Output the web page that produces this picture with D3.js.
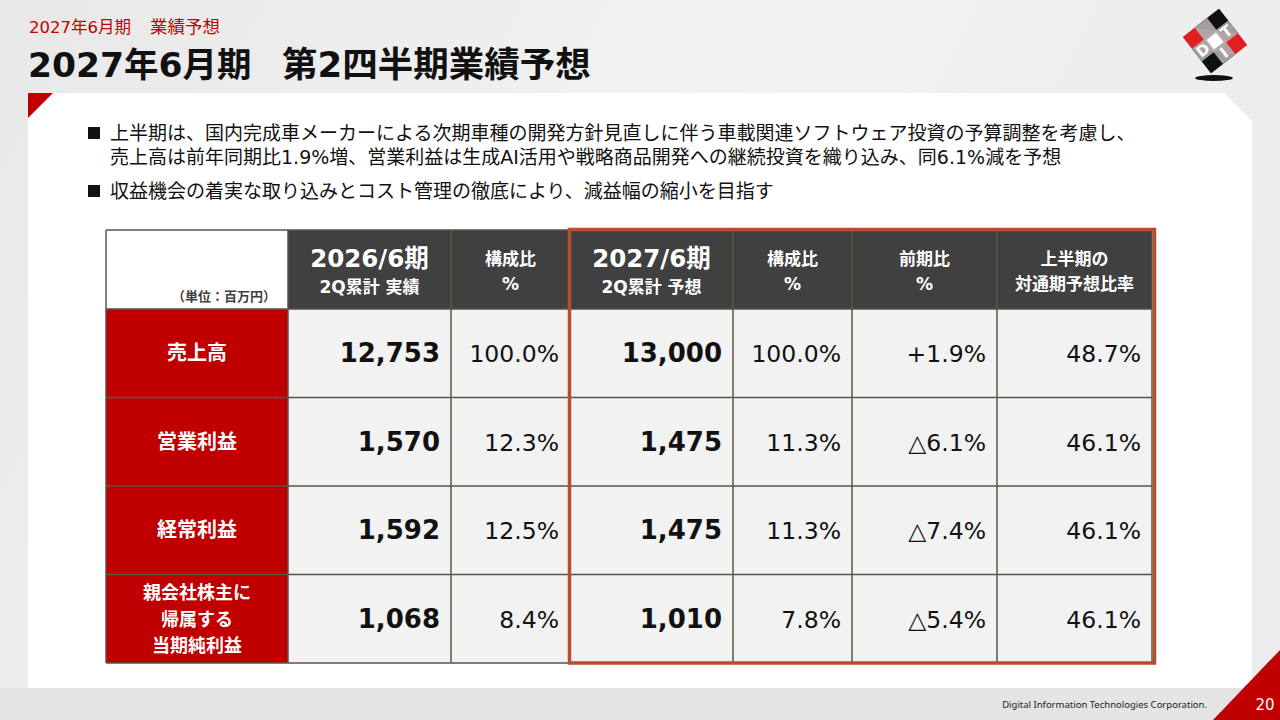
<!DOCTYPE html>
<html>
<head>
<meta charset="utf-8">
<script src="https://cdn.jsdelivr.net/npm/d3@7"></script>
<style>
  html, body { margin: 0; padding: 0; background: #ececec; }
  svg { display: block; }
</style>
</head>
<body>
<svg id="slide" width="1280" height="720"></svg>
<script>
// data
var categories = ["売上高", "営業利益", "経常利益", "親会社株主に\n帰属する\n当期純利益"];
var actual2026 = [12753, 1570, 1592, 1068];
var ratio2026  = [100.0, 12.3, 12.5, 8.4];
var plan2027   = [13000, 1475, 1475, 1010];
var ratio2027  = [100.0, 11.3, 11.3, 7.8];
var yoyChange  = [1.9, -6.1, -7.4, -5.4];
var halfRatio  = [48.7, 46.1, 46.1, 46.1];

var headerLabels = [
  ["2026/6期", "2Q累計 実績"],
  ["構成比", "%"],
  ["2027/6期", "2Q累計 予想"],
  ["構成比", "%"],
  ["前期比", "%"],
  ["上半期の", "対通期予想比率"]
];
var unitLabel = "（単位：百万円）";

var bullets = [
  ["上半期は、国内完成車メーカーによる次期車種の開発方針見直しに伴う車載関連ソフトウェア投資の予算調整を考慮し、",
   "売上高は前年同期比1.9%増、営業利益は生成AI活用や戦略商品開発への継続投資を織り込み、同6.1%減を予想"],
  ["収益機会の着実な取り込みとコスト管理の徹底により、減益幅の縮小を目指す"]
];

var FONT = "'DejaVu Sans', 'Noto Sans CJK JP', sans-serif";
var JP = "'Noto Sans CJK JP', sans-serif";
var RED = "#c00000", DARK = "#404040", CELL = "#f2f2f2", GRID = "#5a5546", ORANGE = "#b84c2c";

var svg = d3.select("#slide");

// ---- background ----
var defs = svg.append("defs");
var bg = defs.append("linearGradient").attr("id", "bgGrad")
  .attr("x1", "0%").attr("y1", "0%").attr("x2", "100%").attr("y2", "30%");
bg.append("stop").attr("offset", "0%").attr("stop-color", "#e8e8e8");
bg.append("stop").attr("offset", "55%").attr("stop-color", "#f2f2f2");
bg.append("stop").attr("offset", "100%").attr("stop-color", "#ececec");

svg.append("rect").attr("width", 1280).attr("height", 720).attr("fill", "url(#bgGrad)");
svg.append("rect").attr("x", 0).attr("y", 688).attr("width", 1280).attr("height", 32).attr("fill", "#e4e4e4");

// white panel with clipped top-right corner
svg.append("path")
  .attr("d", d3.line()([[28, 93], [1224, 93], [1252, 121], [1252, 688], [28, 688]]) + "Z")
  .attr("fill", "#ffffff");

svg.append("path").attr("d", "M28,93L53,93L28,118Z").attr("fill", RED);
svg.append("path").attr("d", "M1213,720L1280,650L1280,720Z").attr("fill", RED);

// ---- titles ----
var head = svg.append("g").attr("font-family", FONT);
head.append("text").attr("x", 29).attr("y", 33).attr("font-size", 16.5).attr("fill", RED)
  .text("2027年6月期");
head.append("text").attr("x", 150).attr("y", 33).attr("font-size", 17.5).attr("fill", RED)
  .text("業績予想");
head.append("text").attr("x", 28).attr("y", 77).attr("font-size", 34.5).attr("font-weight", "bold")
  .attr("fill", "#111").text("2027年6月期");
head.append("text").attr("x", 282).attr("y", 77).attr("font-size", 35.5).attr("font-weight", "bold")
  .attr("fill", "#111").text("第2四半期業績予想");

// ---- logo ----
svg.append("ellipse").attr("cx", 1214).attr("cy", 78).attr("rx", 19).attr("ry", 3).attr("fill", "#111");
var logo = svg.append("g").attr("transform", "translate(1215,41) rotate(-38)");
var s = 23;
logo.append("rect").attr("x", -s).attr("y", -s).attr("width", 2 * s).attr("height", 2 * s).attr("fill", "#e02020");
logo.append("path").attr("d", "M-8," + (-s) + "L" + s + "," + (-s) + "L" + s + ",8Z").attr("fill", "#111");
logo.append("path").attr("d", "M" + (-s) + ",-8L" + (-s) + "," + s + "L8," + s + "Z").attr("fill", "#111");
logo.append("rect").attr("x", -8).attr("y", -s).attr("width", 16).attr("height", 2 * s).attr("fill", "#b0b0b0").attr("opacity", 0.9);
logo.append("rect").attr("x", -s).attr("y", -8).attr("width", 2 * s).attr("height", 16).attr("fill", "#b0b0b0").attr("opacity", 0.9);
logo.append("rect").attr("x", -6).attr("y", -6).attr("width", 12).attr("height", 12).attr("fill", "#fff");
var logoText = [["D", -15, 0], ["I", 0, 15], ["T", 15, 0]];
logo.selectAll("text.l").data(logoText).join("text")
  .attr("x", function(d) { return d[1]; }).attr("y", function(d) { return d[2] + 5; })
  .attr("text-anchor", "middle").attr("font-family", FONT).attr("font-weight", "bold")
  .attr("font-size", 15).attr("fill", "#fff").text(function(d) { return d[0]; });

// ---- bullets ----
var bl = svg.append("g").attr("font-family", FONT).attr("font-size", 19).attr("fill", "#111");
var lineY = [[140, 164], [198]];
bullets.forEach(function(lines, i) {
  bl.append("rect").attr("x", 88).attr("y", lineY[i][0] - 13).attr("width", 12).attr("height", 12).attr("fill", "#111");
  lines.forEach(function(t, j) {
    bl.append("text").attr("x", 110).attr("y", lineY[i][j]).text(t);
  });
});

// ---- table ----
var colEdges = [106, 288, 451, 570, 733, 852, 997, 1152];
var headerTop = 230, headerBottom = 309, tableBottom = 663;
var y = d3.scaleBand().domain(d3.range(categories.length)).range([headerBottom, tableBottom]);

var fmtNum = d3.format(",");
var fmtPct = function(v) { return v.toFixed(1) + "%"; };
var fmtYoy = function(v) { return (v >= 0 ? "+" : "△") + Math.abs(v).toFixed(1) + "%"; };

var columns = [
  { values: actual2026, fmt: fmtNum, bold: true },
  { values: ratio2026, fmt: fmtPct, bold: false },
  { values: plan2027, fmt: fmtNum, bold: true },
  { values: ratio2027, fmt: fmtPct, bold: false },
  { values: yoyChange, fmt: fmtYoy, bold: false },
  { values: halfRatio, fmt: fmtPct, bold: false }
];

var table = svg.append("g");

// header
table.append("rect").attr("x", colEdges[0]).attr("y", headerTop)
  .attr("width", colEdges[1] - colEdges[0]).attr("height", headerBottom - headerTop).attr("fill", "#fff");
table.append("text").attr("x", colEdges[1] - 12).attr("y", headerBottom - 8)
  .attr("text-anchor", "end").attr("font-family", JP).attr("font-weight", "bold")
  .attr("font-size", 13).attr("fill", "#404040").text(unitLabel);

headerLabels.forEach(function(lbl, c) {
  var x0 = colEdges[c + 1], x1 = colEdges[c + 2], cx = (x0 + x1) / 2;
  table.append("rect").attr("x", x0).attr("y", headerTop).attr("width", x1 - x0)
    .attr("height", headerBottom - headerTop).attr("fill", DARK);
  var big = lbl[0].indexOf("/") > 0;
  table.append("text").attr("x", cx).attr("y", big ? 267 : 265)
    .attr("text-anchor", "middle").attr("font-family", FONT).attr("font-weight", "bold")
    .attr("font-size", big ? 24.5 : 17).attr("fill", "#fff").text(lbl[0]);
  table.append("text").attr("x", cx).attr("y", big ? 293 : 290)
    .attr("text-anchor", "middle").attr("font-family", FONT).attr("font-weight", "bold")
    .attr("font-size", 17).attr("fill", "#fff").text(lbl[1]);
});

// body rows
categories.forEach(function(cat, r) {
  var ry = y(r), rh = y.bandwidth();
  table.append("rect").attr("x", colEdges[0]).attr("y", ry)
    .attr("width", colEdges[1] - colEdges[0]).attr("height", rh).attr("fill", RED);
  var parts = cat.split("\n");
  var multi = parts.length > 1;
  var lh = 26.5;
  parts.forEach(function(p, k) {
    table.append("text").attr("x", (colEdges[0] + colEdges[1]) / 2)
      .attr("y", ry + rh / 2 + (k - (parts.length - 1) / 2) * lh + 7)
      .attr("text-anchor", "middle").attr("font-family", JP).attr("font-weight", "bold")
      .attr("font-size", multi ? 18 : 20).attr("fill", "#fff").text(p);
  });

  columns.forEach(function(col, c) {
    var x0 = colEdges[c + 1], x1 = colEdges[c + 2];
    table.append("rect").attr("x", x0).attr("y", ry).attr("width", x1 - x0).attr("height", rh).attr("fill", CELL);
    table.append("text").attr("x", x1 - 11).attr("y", ry + rh / 2 + 9)
      .attr("text-anchor", "end").attr("font-family", FONT)
      .attr("font-weight", col.bold ? "bold" : "normal")
      .attr("font-size", col.bold ? 26 : 23.5).attr("fill", "#111")
      .text(col.fmt(col.values[r]));
  });
});

// grid lines
var grid = table.append("g").attr("stroke", GRID).attr("stroke-width", 1.5);
colEdges.forEach(function(x) {
  grid.append("line").attr("x1", x).attr("x2", x).attr("y1", headerTop).attr("y2", tableBottom);
});
[headerTop, headerBottom].concat(categories.map(function(d, i) { return y(i) + y.bandwidth(); }))
  .forEach(function(yy) {
    grid.append("line").attr("x1", colEdges[0]).attr("x2", colEdges[colEdges.length - 1]).attr("y1", yy).attr("y2", yy);
  });

// highlight box around the forecast columns
table.append("rect").attr("x", 569.5).attr("y", 229.5).attr("width", 585).attr("height", 433.5)
  .attr("fill", "none").attr("stroke", ORANGE).attr("stroke-width", 3.5);

// ---- footer ----
svg.append("text").attr("x", 1207).attr("y", 708).attr("text-anchor", "end")
  .attr("font-family", "'Noto Sans', sans-serif").attr("font-size", 9.5).attr("fill", "#222")
  .text("Digital Information Technologies Corporation.");
svg.append("text").attr("x", 1265).attr("y", 710).attr("text-anchor", "middle")
  .attr("font-family", FONT).attr("font-size", 15).attr("fill", "#fff").text("20");
</script>
</body>
</html>
